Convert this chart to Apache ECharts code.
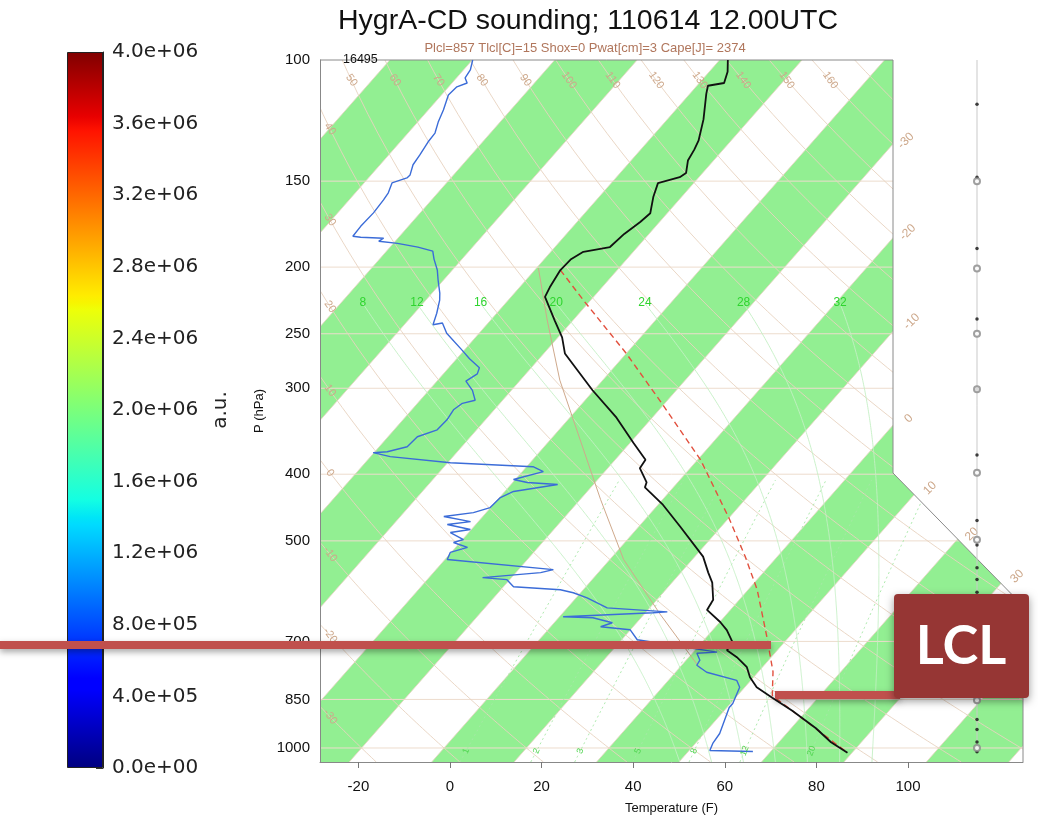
<!DOCTYPE html>
<html><head><meta charset="utf-8">
<script src="https://cdn.jsdelivr.net/npm/echarts@6/dist/echarts.min.js"></script>
<style>html,body{margin:0;padding:0;background:#fff}#c{width:1038px;height:829px}</style>
</head><body><div id="c"></div>
<script>
// ---------------- DATA (pressure hPa, temperature °F) ----------------
const temperature = [[100,-74.2],[104,-72.0],[108,-70.6],[109,-73.6],[112,-72.4],[122,-68.1],[131,-65.1],[135,-64.3],[140,-63.6],[146,-61.6],[148,-62.2],[151,-65.8],[158,-64.2],[167,-61.7],[172,-62.2],[179,-63.4],[187,-64.0],[190,-68.9],[195,-70.2],[202,-70.4],[214,-69.4],[221,-68.6],[239,-62.0],[253,-57.1],[267,-53.4],[282,-47.6],[302,-40.3],[331,-29.8],[360,-21.3],[381,-15.4],[392,-15.0],[411,-10.8],[418,-10.2],[442,-3.2],[477,5.1],[527,15.8],[556,20.0],[575,22.8],[609,26.3],[630,26.9],[656,32.1],[674,35.1],[702,38.7],[721,39.0],[738,42.5],[763,46.6],[789,49.2],[816,52.6],[845,58.0],[883,64.9],[936,73.4],[981,79.4],[1016,85.0]];
const dewpoint = [[100,-129.9],[103.4,-128.5],[106.2,-128.1],[108,-126.7],[109.4,-128.2],[112.4,-128.5],[118.2,-126.7],[123.1,-125.5],[127.7,-124.1],[131.6,-123.9],[137.4,-123.2],[142,-122.8],[146.9,-121.5],[148.4,-121.6],[150.9,-123.9],[156,-122.8],[159.7,-122.5],[166.8,-122.2],[174.5,-122.4],[180.4,-122.2],[181,-120.3],[181.6,-115.1],[183.4,-115.6],[184.7,-111.1],[187.1,-105.9],[189.6,-101.9],[194.7,-100.1],[201.9,-97.3],[208.8,-95.2],[218.2,-92.3],[223.3,-91.0],[233.4,-89.1],[242.6,-87.7],[241.1,-86.0],[249.5,-83.1],[264.5,-76.3],[271.8,-73.2],[280.2,-69.3],[285.9,-68.6],[292.9,-69.7],[302.1,-66.5],[312.3,-64.0],[315.5,-66.2],[322.4,-66.9],[333.4,-66.4],[344.8,-66.6],[352.9,-69.6],[364.9,-69.9],[371,-73.3],[372.2,-76.2],[377.2,-71.7],[384.9,-57.4],[390.1,-38.6],[396.6,-35.4],[407.2,-40.4],[411.3,-36.8],[414,-29.8],[423.8,-38.1],[432.5,-39.8],[447.3,-40.1],[454.8,-42.8],[460.9,-48.5],[468.7,-41.7],[473.4,-46.2],[481.4,-40.2],[486.2,-44.0],[497.7,-39.8],[502.7,-41.4],[511.1,-37.4],[519.7,-40.2],[532.1,-39.5],[550.4,-14.4],[556,-16.6],[565.5,-28.3],[569.3,-22.6],[582.9,-19.8],[588.8,-9.0],[594.8,-5.6],[604.9,-1.6],[625.6,4.7],[634,18.6],[636.1,15.7],[644.6,-3.2],[646.8,3.5],[657.6,8.7],[666.4,6.9],[673.1,13.9],[696.1,17.4],[725.6,37.2],[728.1,33.0],[745.4,35.0],[758.1,35.3],[776.1,38.8],[797.3,46.9],[816.3,48.9],[861.7,50.5],[873.4,50.5],[952.6,53.4],[984.8,53.8],[1008.2,54.5],[1011.6,64.1]];
const parcel = [[202,-70.4],[223,-59.8],[267,-40.0],[316,-22.5],[381,-3.4],[463,14.0],[527,25.0],[589,34.0],[690,45.2],[775,53.2],[839,57.6],[1016,85.0]];
const auxLine = [[200.6,-75.6],[238.7,-63.7],[291.9,-49.4],[356.4,-33.5],[435.6,-17.5],[532.1,-1.0],[640.4,17.7],[768.3,36.9]];
const windDotP = [116,148,188,238,301,375,467,507,547,569,594,909,940,980,1013];
const windCalmP = [150,201,250,301,398,498,852,1000];
const pressureTicks = [100,150,200,250,300,400,500,700,850,1000];
const tempTicks = [-20,0,20,40,60,80,100];
const greenBandLowC = [-120,-100,-80,-60,-40,-20,0,20,40];
const dryThetaC = [-40,-30,-20,-10,0,10,20,30,40,50,60,70,80,90,100,110,120,130,140,150,160,170];
const dryTopLabels = [50,60,70,80,90,100,110,120,130,140,150,160];
const dryLeftLabels = [40,30,20,10,0,-10,-20,-30];
const isothermLabelC = [-30,-20,-10,0,10,20,30];
const isothermLabelP = [131,178,240,332,419,489,563];
const moistThetaW = [8,12,16,20,24,28,32];
const mixingRatios = [1,2,3,5,8,12,20];
const colorTicksMax = 4e6;
const subtitle = 'Plcl=857 Tlcl[C]=15 Shox=0 Pwat[cm]=3 Cape[J]= 2374';

// ---------------- geometry of the skew-T ----------------
const SKEW = 57.4, PB = 1048, PT = 100;
const LNPB = Math.log(PB), LNPT = Math.log(PT);
const XMIN = -28.38, XMAX = 125.1;
const SK = SKEW * Math.log(PB / PT);
const CUT = {x1: 96.72, p1: 398.4, p2: 621.4};
const c2f = c => c * 1.8 + 32;
const X = (p, tf) => tf + SKEW * Math.log(PB / p);
const P = (p, tf) => [X(p, tf), Math.log(p)];

const dryT = (th, p) => (th + 273.15) * Math.pow(p / 1000, 0.2857) - 273.15;
function moist(thw) {
  const Rd = 287.04, Cp = 1005.7, Lv = 2.501e6, eps = 0.622;
  const rate = (p, T) => { const e = 6.112 * Math.exp(17.67 * (T - 273.15) / (T - 29.65)); const rs = eps * e / (p - e);
    return (Rd * T + Lv * rs) / (p * (Cp + Lv * Lv * rs * eps / (Rd * T * T))); };
  let T = thw + 273.15, p = 1000;
  while (p < PB) { T += rate(p, T) * 1; p += 1; }
  const out = [[PB, T - 273.15]];
  T = thw + 273.15; p = 1000;
  while (p >= 225) { out.push([p, T - 273.15]); const k1 = rate(p, T); const k2 = rate(p - 1, T - k1); T -= (k1 + k2) / 2 * 2; p -= 2; }
  return out;
}
const tdFromW = (w, p) => { const e = w * p / (622 + w); const l = Math.log(e / 6.112); return 243.5 * l / (17.67 - l); };

const refLines = [];
pressureTicks.slice(1).forEach(p => refLines.push({pts: [[XMIN, Math.log(p)], [XMAX, Math.log(p)]], color: '#eddccd', w: 1}));
for (let c = -130; c <= 50; c += 10) refLines.push({pts: [P(PB, c2f(c)), P(PT, c2f(c))], color: '#e9d3c2', w: 0.8});
dryThetaC.forEach(th => { const pts = []; for (let p = PB; p >= PT - 0.1; p -= 8) pts.push(P(p, c2f(dryT(th, p)))); pts.push(P(PT, c2f(dryT(th, PT)))); refLines.push({pts, color: '#e8d2c0', w: 0.9}); });
mixingRatios.forEach(w => { const pts = []; for (let p = PB; p >= 400; p -= 20) pts.push(P(p, c2f(tdFromW(w, p)))); refLines.push({pts, color: '#a6e8a6', w: 0.9, dash: [2, 3]}); });
const moistCurves = moistThetaW.map(t => moist(t));
moistCurves.forEach(cv => refLines.push({pts: cv.map(([p, c]) => P(p, c2f(c))), color: '#c4efc4', w: 0.9}));

const labels = [];
const tan = '#cda88b', grn = '#2fd42f';
dryTopLabels.forEach(th => labels.push({x: X(107, c2f(dryT(th, 107))), y: Math.log(107), text: String(th), rot: -0.96, color: tan, size: 11}));
dryLeftLabels.forEach(th => {
  let lo = 100, hi = 1048, mid = 300; const target = XMIN + 2.2;
  for (let i = 0; i < 50; i++) { mid = Math.sqrt(lo * hi); if (X(mid, c2f(dryT(th, mid))) < target) lo = mid; else hi = mid; }
  labels.push({x: X(mid, c2f(dryT(th, mid))), y: Math.log(mid), text: String(th), rot: -0.96, color: tan, size: 11});
});
isothermLabelC.forEach((c, i) => { const p = isothermLabelP[i]; labels.push({x: X(p, c2f(c)), y: Math.log(p), text: String(c), rot: 0.78, color: tan, size: 12, dx: 10}); });
moistCurves.forEach((cv, i) => { const last = cv[cv.length - 1]; labels.push({x: X(last[0], c2f(last[1])), y: Math.log(225), text: String(moistThetaW[i]), rot: 0, color: grn, size: 12}); });
mixingRatios.forEach(w => labels.push({x: X(1010, c2f(tdFromW(w, 1010))), y: Math.log(1010), text: String(w), rot: 1.2, color: '#4fd44f', size: 9}));

const fmtExp = v => { if (v === 0) return '0.0e+00'; const e = Math.floor(Math.log10(v) + 1e-9); const m = v / Math.pow(10, e); return m.toFixed(1) + 'e+' + String(e).padStart(2, '0'); };

const jet = [[0,'#000080'],[0.11,'#0000ff'],[0.125,'#0000ff'],[0.34,'#00dbff'],[0.35,'#00e5f7'],[0.375,'#14ffe2'],[0.64,'#eeff08'],[0.65,'#f7f500'],[0.66,'#ffec00'],[0.89,'#ff1300'],[0.91,'#e80000'],[1,'#800000']];

const chart = echarts.init(document.getElementById('c'), null, {renderer: 'canvas'});
const FONT = 'Liberation Sans, Arial, sans-serif';
chart.setOption({
  animation: false,
  backgroundColor: '#fff',
  title: [
    {text: 'HygrA-CD sounding; 110614 12.00UTC', left: 583, top: 2, textAlign: 'center', textStyle: {fontSize: 28.5, fontWeight: 'normal', color: '#111', fontFamily: FONT}},
    {text: subtitle, left: 580, top: 37, textAlign: 'center', textStyle: {fontSize: 13, fontWeight: 'normal', color: '#b0765c', fontFamily: FONT}},
    {text: '16495', left: 338, top: 48, textStyle: {fontSize: 12.5, fontWeight: 'normal', color: '#111', fontFamily: FONT}}
  ],
  grid: [
    {left: 320, top: 60, width: 703, height: 702},
    {left: 966, top: 60, width: 22, height: 702},
    {left: 67, top: 52, width: 36, height: 716}
  ],
  xAxis: [
    {gridIndex: 0, type: 'value', min: XMIN, max: XMAX, z: 10,
     axisLine: {onZero: false, lineStyle: {color: '#888', width: 1}},
     axisTick: {customValues: tempTicks, length: 6, lineStyle: {color: '#777'}},
     axisLabel: {customValues: tempTicks, fontSize: 15, color: '#111', margin: 17, fontFamily: FONT},
     splitLine: {show: false},
     name: 'Temperature (F)', nameLocation: 'middle', nameGap: 40, nameTextStyle: {fontSize: 13, color: '#111', fontFamily: FONT}},
    {gridIndex: 1, type: 'value', min: -1, max: 1, show: false},
    {gridIndex: 2, type: 'category', data: [''], show: false}
  ],
  yAxis: [
    {gridIndex: 0, type: 'value', inverse: true, min: LNPT, max: LNPB, z: 10,
     axisLine: {show: true, onZero: false, lineStyle: {color: '#888', width: 1}},
     axisTick: {show: false},
     axisLabel: {customValues: pressureTicks.map(Math.log), formatter: v => String(Math.round(Math.exp(v))), fontSize: 15, color: '#111', margin: 10, fontFamily: FONT},
     splitLine: {show: false},
     name: 'P (hPa)', nameLocation: 'middle', nameGap: 38, nameRotate: 90, nameTextStyle: {fontSize: 13, color: '#111', fontFamily: FONT}},
    {gridIndex: 1, type: 'value', inverse: true, min: LNPT, max: LNPB, show: false},
    {gridIndex: 2, type: 'value', min: 0, max: colorTicksMax, interval: 4e5, position: 'right',
     axisLine: {show: true, lineStyle: {color: '#222'}},
     axisTick: {show: true, inside: true, length: 7, lineStyle: {color: '#333'}},
     axisLabel: {fontSize: 20, color: '#222', margin: 9, fontFamily: 'DejaVu Sans', formatter: fmtExp},
     splitLine: {show: false},
     name: 'a.u.', nameLocation: 'middle', nameRotate: 90, nameGap: 108, nameTextStyle: {fontSize: 20, color: '#222', fontFamily: 'DejaVu Sans'}}
  ],
  series: [
    {type: 'custom', name: 'bands', xAxisIndex: 0, yAxisIndex: 0, z: 1, clip: true, silent: true,
     data: greenBandLowC.map(c => [c2f(c), LNPB]), encode: {x: 0, y: 1},
     renderItem: (params, api) => { const t1 = api.value(0), t2 = t1 + 18;
       const pts = [[t1, LNPB], [t2, LNPB], [t2 + SK, LNPT], [t1 + SK, LNPT]].map(d => api.coord(d));
       return {type: 'polygon', shape: {points: pts}, style: {fill: '#92ef92'}}; }},
    {type: 'custom', name: 'ref', xAxisIndex: 0, yAxisIndex: 0, z: 2, clip: true, silent: true,
     data: refLines.map((l, i) => [l.pts[0][0], l.pts[0][1], i]), encode: {x: 0, y: 1},
     renderItem: (params, api) => { const L = refLines[api.value(2)];
       return {type: 'polyline', shape: {points: L.pts.map(d => api.coord(d))}, style: {stroke: L.color, lineWidth: L.w, lineDash: L.dash || null, fill: null}}; }},
    {type: 'custom', name: 'frame', xAxisIndex: 0, yAxisIndex: 0, z: 3, clip: false, silent: true,
     data: [[XMAX, LNPT]], encode: {x: 0, y: 1},
     renderItem: (params, api) => {
       const poly = [[CUT.x1, LNPT], [CUT.x1, Math.log(CUT.p1)], [XMAX, Math.log(CUT.p2)], [XMAX + 1, Math.log(CUT.p2)], [XMAX + 1, LNPT]].map(d => api.coord(d));
       poly[0][1] -= 2; poly[4][1] -= 2;
       const border = [[XMIN, LNPT], [CUT.x1, LNPT], [CUT.x1, Math.log(CUT.p1)], [XMAX, Math.log(CUT.p2)], [XMAX, LNPB]].map(d => api.coord(d));
       return {type: 'group', children: [
         {type: 'polygon', shape: {points: poly}, style: {fill: '#fff'}},
         {type: 'polyline', shape: {points: border}, style: {stroke: '#8a8a8a', lineWidth: 1, fill: null}}]}; }},
    {type: 'line', name: 'aux', xAxisIndex: 0, yAxisIndex: 0, z: 4, showSymbol: false, silent: true,
     data: auxLine.map(([p, t]) => P(p, t)), lineStyle: {color: '#cfa98c', width: 1}},
    {type: 'line', name: 'dewpoint', xAxisIndex: 0, yAxisIndex: 0, z: 5, showSymbol: false, silent: true,
     data: dewpoint.map(([p, t]) => P(p, t)), lineStyle: {color: '#3b6cd8', width: 1.4}},
    {type: 'line', name: 'parcel', xAxisIndex: 0, yAxisIndex: 0, z: 5, showSymbol: false, silent: true,
     data: parcel.map(([p, t]) => P(p, t)), lineStyle: {color: '#e2503e', width: 1.4, type: [6, 4]}},
    {type: 'line', name: 'temperature', xAxisIndex: 0, yAxisIndex: 0, z: 6, showSymbol: false, silent: true,
     data: temperature.map(([p, t]) => P(p, t)), lineStyle: {color: '#111', width: 1.8}},
    {type: 'custom', name: 'labels', xAxisIndex: 0, yAxisIndex: 0, z: 7, clip: false, silent: true,
     data: labels.map((l, i) => [l.x, l.y, i]), encode: {x: 0, y: 1},
     renderItem: (params, api) => { const l = labels[api.value(2)]; const c = api.coord([api.value(0), api.value(1)]);
       return {type: 'text', x: c[0] + (l.dx || 0), y: c[1] + (l.dy || 0), rotation: l.rot,
         style: {text: l.text, fill: l.color, fontSize: l.size, fontFamily: FONT, align: 'center', verticalAlign: 'middle'}}; }},
    {type: 'line', name: 'pole', xAxisIndex: 1, yAxisIndex: 1, z: 8, showSymbol: false, silent: true,
     data: [[0, LNPT], [0, Math.log(1012)]], lineStyle: {color: '#c9c9c9', width: 1}},
    {type: 'scatter', name: 'wind', xAxisIndex: 1, yAxisIndex: 1, z: 9, silent: true, symbol: 'circle', symbolSize: 3.5,
     data: windDotP.map(p => [0, Math.log(p)]), itemStyle: {color: '#111'}},
    {type: 'scatter', name: 'calm', xAxisIndex: 1, yAxisIndex: 1, z: 9, silent: true, symbol: 'emptyCircle', symbolSize: 6,
     data: windCalmP.map(p => [0, Math.log(p)]), itemStyle: {color: '#888', borderWidth: 1}},
    {type: 'bar', name: 'colorbar', xAxisIndex: 2, yAxisIndex: 2, silent: true, barWidth: '100%',
     data: [colorTicksMax],
     itemStyle: {color: new echarts.graphic.LinearGradient(0, 1, 0, 0, jet.map(([o, c]) => ({offset: o, color: c}))), borderColor: '#222', borderWidth: 1}}
  ],
  graphic: [
    {type: 'rect', z: 100, shape: {x: 0, y: 641, width: 771, height: 8}, style: {fill: '#c0504d', shadowBlur: 6, shadowColor: 'rgba(0,0,0,0.35)', shadowOffsetY: 3}},
    {type: 'rect', z: 100, shape: {x: 775, y: 691, width: 125, height: 8}, style: {fill: '#c0504d', shadowBlur: 6, shadowColor: 'rgba(0,0,0,0.35)', shadowOffsetY: 3}},
    {type: 'rect', z: 101, shape: {x: 894, y: 594, width: 135, height: 104, r: 4}, style: {fill: '#963634', shadowBlur: 8, shadowColor: 'rgba(0,0,0,0.4)', shadowOffsetY: 3}},
    {type: 'text', z: 102, x: 961, y: 647, style: {text: 'LCL', fill: '#fff', font: 'bold 54px Lato, "Open Sans", sans-serif', align: 'center', verticalAlign: 'middle'}}
  ]
});
</script></body></html>
